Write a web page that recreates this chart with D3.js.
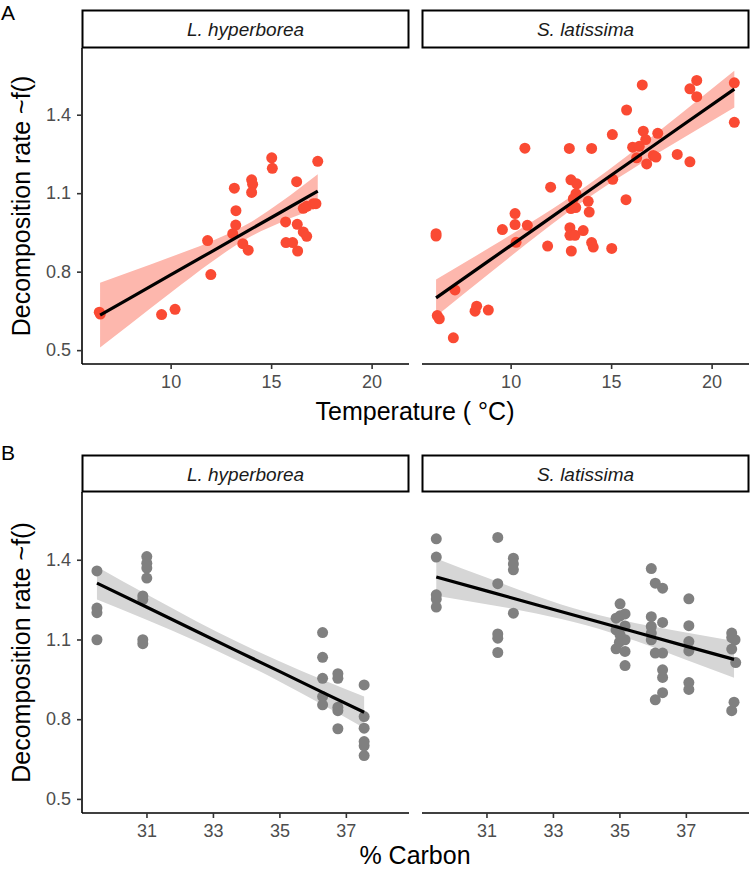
<!DOCTYPE html>
<html><head><meta charset="utf-8">
<script src="https://cdn.jsdelivr.net/npm/d3@7"></script>
<style>body{margin:0;background:#fff}svg{display:block;font-family:"Liberation Sans",Arial,sans-serif}</style>
</head><body><svg id="c" width="750" height="870"></svg>
<script>
// ---------- data ----------
const facets = ["L. hyperborea", "S. latissima"];
const yTicks = [0.5, 0.8, 1.1, 1.4];
const tempTicks = [10, 15, 20];
const carbTicks = [31, 33, 35, 37];

// Panel A: temperature
const tempLhX = [6.45,6.5,9.55,10.22,12.0,11.84,13.09,13.24,13.25,13.17,13.59,13.86,14.03,14.08,14.03,15.03,15.06,17.32,16.27,15.72,16.30,16.6,16.77,15.74,16.07,16.32,16.6,16.77,17.1,17.23];
const tempLhY = [0.645,0.638,0.636,0.656,0.789,0.919,0.945,0.978,1.033,1.119,0.907,0.882,1.151,1.134,1.103,1.235,1.195,1.222,1.144,0.99,0.981,0.952,0.935,0.911,0.911,0.879,1.042,1.05,1.06,1.06];
const tempSlX = [16.55,19.26,18.92,19.26,21.13,21.13,15.77,15.06,16.6,16.72,17.32,16.07,16.4,16.27,17.1,17.23,16.77,18.29,18.92,10.71,12.92,14.03,15.08,13.0,13.29,11.99,13.25,13.12,13.86,15.74,13.0,13.24,13.91,10.22,10.22,10.83,9.59,10.27,12.95,12.95,13.2,13.61,14.03,14.11,11.84,13.02,15.03,6.29,6.29,6.35,6.45,7.15,8.23,8.31,8.89,7.23];
const tempSlY = [1.514,1.531,1.499,1.469,1.522,1.371,1.418,1.324,1.337,1.305,1.329,1.276,1.279,1.235,1.244,1.238,1.212,1.248,1.22,1.272,1.271,1.271,1.153,1.151,1.136,1.123,1.098,1.079,1.069,1.075,1.041,1.045,1.028,1.022,0.98,0.977,0.961,0.912,0.968,0.939,0.939,0.957,0.911,0.894,0.898,0.879,0.889,0.936,0.945,0.632,0.62,0.547,0.649,0.668,0.653,0.73];
// fitted line and confidence band
const tempLhFitX = [6.49, 8, 10, 12, 13.8, 15.5, 17.32];
const tempLhFit  = [0.634, 0.700, 0.788, 0.875, 0.954, 1.028, 1.108];
const tempLhLo   = [0.510, 0.600, 0.719, 0.835, 0.927, 0.989, 1.044];
const tempLhHi   = [0.758, 0.800, 0.856, 0.915, 0.981, 1.067, 1.172];
const tempSlFitX = [6.29, 9, 11.5, 13.7, 16, 18.5, 21.13];
const tempSlFit  = [0.700, 0.846, 0.980, 1.099, 1.222, 1.357, 1.498];
const tempSlLo   = [0.630, 0.797, 0.949, 1.074, 1.190, 1.307, 1.428];
const tempSlHi   = [0.770, 0.894, 1.012, 1.124, 1.255, 1.406, 1.568];

// Panel B: carbon
const carbLhX = [29.51,29.51,29.51,29.51,31.01,31.01,31.01,31.01,30.89,30.89,30.89,30.89,36.30,36.30,36.30,36.30,36.30,36.76,36.76,36.76,36.76,36.76,37.55,37.55,37.55,37.55,37.55,37.55];
const carbLhY = [1.358,1.218,1.201,1.099,1.412,1.387,1.369,1.331,1.264,1.25,1.099,1.084,1.126,1.033,0.954,0.885,0.854,0.971,0.954,0.845,0.832,0.764,0.929,0.81,0.766,0.716,0.700,0.663];
const carbSlX = [29.49,29.49,29.49,29.49,29.49,31.34,31.34,31.34,31.34,31.34,31.81,31.81,31.81,31.81,35.02,34.9,35.17,35.02,35.17,34.9,35.02,35.17,34.9,35.17,35.17,35.0,35.96,36.08,36.3,35.96,36.3,35.96,35.96,35.96,36.08,36.3,36.3,36.3,36.3,36.08,37.09,37.09,37.09,37.09,37.09,37.09,38.38,38.38,38.48,38.38,38.5,38.45,38.38];
const carbSlY = [1.479,1.41,1.268,1.252,1.222,1.484,1.31,1.121,1.105,1.051,1.406,1.384,1.362,1.199,1.234,1.18,1.196,1.189,1.151,1.136,1.117,1.099,1.065,1.055,1.002,1.09,1.367,1.312,1.293,1.186,1.164,1.149,1.124,1.099,1.049,1.049,0.986,0.957,0.900,0.873,1.253,1.152,1.092,1.057,0.938,0.912,1.124,1.107,1.099,1.064,1.013,0.864,0.832];
const carbLhFitX = [29.51, 31, 32.5, 33.7, 35, 36.3, 37.55];
const carbLhFit  = [1.312, 1.222, 1.131, 1.058, 0.980, 0.901, 0.826];
const carbLhLo   = [1.250, 1.174, 1.093, 1.023, 0.942, 0.854, 0.767];
const carbLhHi   = [1.374, 1.270, 1.169, 1.093, 1.018, 0.948, 0.885];
const carbSlFitX = [29.49, 31, 32.5, 34, 35.5, 37, 38.45];
const carbSlFit  = [1.335, 1.283, 1.231, 1.179, 1.127, 1.075, 1.025];
const carbSlLo   = [1.265, 1.233, 1.198, 1.154, 1.094, 1.024, 0.956];
const carbSlHi   = [1.405, 1.333, 1.264, 1.204, 1.161, 1.126, 1.094];

// ---------- layout ----------
const svg = d3.select("#c");
const panelX = [82, 422], panelW = 327;
const rows = [
  {tag:"A", tagY:20, stripTop:10, top:48, bottom:364, titleY:420, xDom:[5.59,21.86], ticks:tempTicks, title:"Temperature ( °C)",
   pointColor:"#FA4A33", bandColor:"#FDB7AD",
   sets:[{x:tempLhX,y:tempLhY,fx:tempLhFitX,f:tempLhFit,lo:tempLhLo,hi:tempLhHi},
         {x:tempSlX,y:tempSlY,fx:tempSlFitX,f:tempSlFit,lo:tempSlLo,hi:tempSlHi}]},
  {tag:"B", tagY:460, stripTop:455, top:492, bottom:813, titleY:864, xDom:[29.06,38.9], ticks:carbTicks, title:"% Carbon",
   pointColor:"#808080", bandColor:"#D6D6D6",
   sets:[{x:carbLhX,y:carbLhY,fx:carbLhFitX,f:carbLhFit,lo:carbLhLo,hi:carbLhHi},
         {x:carbSlX,y:carbSlY,fx:carbSlFitX,f:carbSlFit,lo:carbSlLo,hi:carbSlHi}]}
];
const yDom = [0.447, 1.655];

rows.forEach(r => {
  const y = d3.scaleLinear().domain(yDom).range([r.bottom, r.top]);
  svg.append("text").attr("x", 1).attr("y", r.tagY).attr("font-size", 21).attr("fill", "#000").text(r.tag);
  // y title
  svg.append("text").attr("transform", `translate(29.5,${(r.top + r.bottom) / 2}) rotate(-90)`)
    .attr("text-anchor", "middle").attr("font-size", 25).attr("fill", "#000").text("Decomposition rate ~f()");
  // x title
  svg.append("text").attr("x", 415).attr("y", r.titleY).attr("text-anchor", "middle")
    .attr("font-size", 25).attr("fill", "#000").text(r.title);

  r.sets.forEach((s, i) => {
    const x0 = panelX[i];
    const x = d3.scaleLinear().domain(r.xDom).range([x0, x0 + panelW]);
    const g = svg.append("g");
    // strip
    g.append("rect").attr("x", x0 + 0.5).attr("y", r.stripTop + 0.5).attr("width", panelW - 1).attr("height", r.top - r.stripTop - 1)
      .attr("fill", "#fff").attr("stroke", "#000").attr("stroke-width", 2);
    g.append("text").attr("x", x0 + panelW / 2).attr("y", r.stripTop + 25.5).attr("text-anchor", "middle")
      .attr("font-size", 19).attr("font-style", "italic").attr("fill", "#1a1a1a").text(facets[i]);
    // band
    const bandData = s.fx.map((v, k) => ({x: v, lo: s.lo[k], hi: s.hi[k]}));
    g.append("path").datum(bandData)
      .attr("d", d3.area().x(d => x(d.x)).y0(d => y(d.lo)).y1(d => y(d.hi)).curve(d3.curveMonotoneX))
      .attr("fill", r.bandColor);
    // points
    g.selectAll("circle.p").data(s.x.map((v, k) => [v, s.y[k]])).join("circle")
      .attr("cx", d => x(d[0])).attr("cy", d => y(d[1])).attr("r", 5.5).attr("fill", r.pointColor);
    // fit line
    g.append("path").datum(s.fx.map((v, k) => [v, s.f[k]]))
      .attr("d", d3.line().x(d => x(d[0])).y(d => y(d[1])))
      .attr("fill", "none").attr("stroke", "#000").attr("stroke-width", 3.2);
    // x axis
    const xa = g.append("g").attr("transform", `translate(0,${r.bottom})`)
      .call(d3.axisBottom(x).tickValues(r.ticks).tickSize(5).tickPadding(6));
    xa.select(".domain").attr("stroke", "#000").attr("stroke-width", 1.6).attr("d", `M${x0},0H${x0 + panelW}`);
    xa.selectAll(".tick line").attr("stroke", "#333").attr("stroke-width", 1.6);
    xa.selectAll(".tick text").attr("font-size", 18).attr("fill", "#4d4d4d").attr("font-family", "Liberation Sans, Arial, sans-serif");
    if (i === 0) {
      const ya = g.append("g").attr("transform", `translate(${x0},0)`)
        .call(d3.axisLeft(y).tickValues(yTicks).tickFormat(d3.format(".1f")).tickSize(5).tickPadding(6));
      ya.select(".domain").attr("stroke", "#000").attr("stroke-width", 1.6).attr("d", `M0,${r.top}V${r.bottom}`);
      ya.selectAll(".tick line").attr("stroke", "#333").attr("stroke-width", 1.6);
      ya.selectAll(".tick text").attr("font-size", 18).attr("fill", "#4d4d4d").attr("font-family", "Liberation Sans, Arial, sans-serif");
    }
  });
});
</script></body></html>
